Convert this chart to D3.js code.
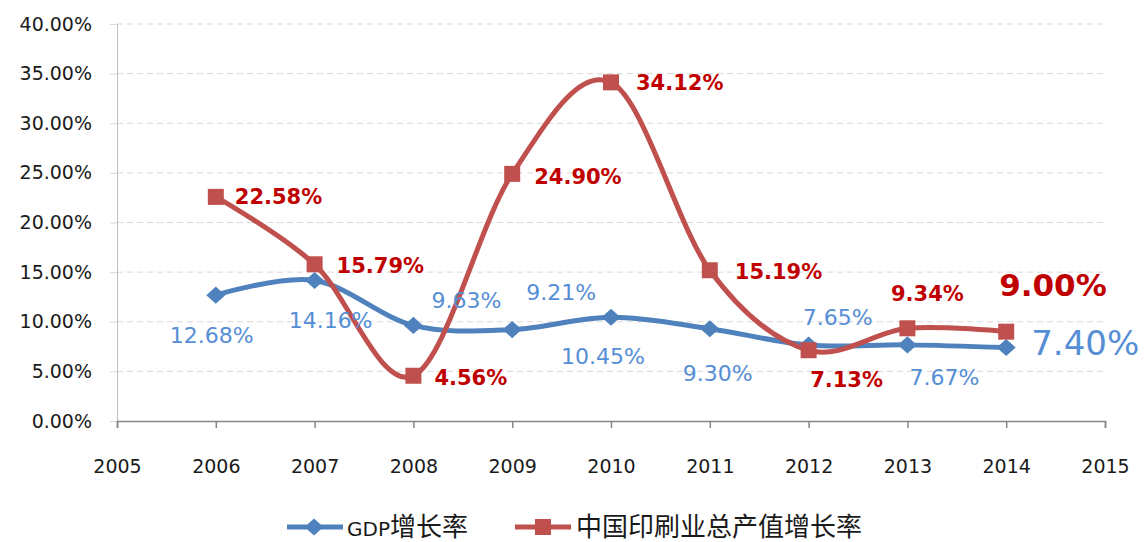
<!DOCTYPE html>
<html>
<head>
<meta charset="utf-8">
<script src="https://cdn.jsdelivr.net/npm/d3@7"></script>
<style>
  body { margin: 0; background: #fff; }
  #chart { width: 1144px; height: 542px; }
  .axis text { font-family: "DejaVu Sans", sans-serif; font-size: 19px; fill: #1a1a1a; }
  .legend text { font-family: "Noto Sans CJK SC", "DejaVu Sans", sans-serif; font-size: 26px; fill: #1a1a1a; }
</style>
</head>
<body>
<div id="chart"></div>
<script>
// data
const years = [2006, 2007, 2008, 2009, 2010, 2011, 2012, 2013, 2014];
const gdpGrowth = [12.68, 14.16, 9.63, 9.21, 10.45, 9.30, 7.65, 7.67, 7.40];
const printGrowth = [22.58, 15.79, 4.56, 24.90, 34.12, 15.19, 7.13, 9.34, 9.00];
const yTicks = [0, 5, 10, 15, 20, 25, 30, 35, 40];
const xTicks = [2005, 2006, 2007, 2008, 2009, 2010, 2011, 2012, 2013, 2014, 2015];
const seriesNames = ["GDP增长率", "中国印刷业总产值增长率"];

// label placement (dx, dy from marker, anchor)
const gdpLabelPos = [
  [-4, 48, "middle"], [16, 48, "middle"], [53, -17, "middle"], [49, -30, "middle"],
  [-8, 47, "middle"], [8, 52, "middle"], [29, -20, "middle"], [37, 40, "middle"], [25, 7, "start"]
];
const printLabelPos = [
  [19, 7, "start"], [22, 9, "start"], [21, 9, "start"], [22, 10, "start"],
  [25, 8, "start"], [25, 9, "start"], [38, 37, "middle"], [20, -27, "middle"], [-7, -36, "start"]
];

const margin = { top: 24, right: 39, bottom: 121, left: 117 };
const W = 1144, H = 542;
const width = W - margin.left - margin.right;
const height = H - margin.top - margin.bottom;

const x = d3.scaleLinear().domain([2005, 2015]).range([0, width]);
const y = d3.scaleLinear().domain([0, 40]).range([height, 0]);

const svg = d3.select("#chart").append("svg")
  .attr("width", W).attr("height", H);

const plot = svg.append("g")
  .attr("transform", `translate(${margin.left},${margin.top})`);

// gridlines
plot.append("g")
  .selectAll("line")
  .data(yTicks.filter(d => d > 0))
  .join("line")
  .attr("x1", 0).attr("x2", width)
  .attr("y1", d => y(d)).attr("y2", d => y(d))
  .attr("stroke", "#d9d9d9")
  .attr("stroke-dasharray", "6,4");

// y axis
const yAxis = plot.append("g").attr("class", "axis")
  .call(d3.axisLeft(y).tickValues(yTicks).tickSize(7).tickPadding(18)
    .tickFormat(d => d.toFixed(2) + "%"));
yAxis.select(".domain").attr("stroke", "#bfbfbf");
yAxis.selectAll(".tick line").attr("stroke", "#d9d9d9");

// x axis
const xAxis = plot.append("g").attr("class", "axis")
  .attr("transform", `translate(0,${height})`)
  .call(d3.axisBottom(x).tickValues(xTicks).tickSize(7).tickSizeOuter(7).tickPadding(32)
    .tickFormat(d3.format("d")));
xAxis.selectAll(".domain, .tick line").attr("stroke", "#868686").attr("stroke-width", 1.5);

const line = d3.line()
  .x((d, i) => x(years[i]))
  .y(d => y(d))
  .curve(d3.curveCardinal.tension(0));

const blue = "#4f81bd", red = "#c0504d";

// GDP line
plot.append("path").datum(gdpGrowth)
  .attr("d", line).attr("fill", "none")
  .attr("stroke", blue).attr("stroke-width", 5);

// print line
plot.append("path").datum(printGrowth)
  .attr("d", line).attr("fill", "none")
  .attr("stroke", red).attr("stroke-width", 5);

const diamond = d3.symbol().type(d3.symbolDiamond2).size(230);

plot.append("g").selectAll("path")
  .data(gdpGrowth)
  .join("path")
  .attr("d", diamond)
  .attr("transform", (d, i) => `translate(${x(years[i])},${y(d)}) scale(1,0.9)`)
  .attr("fill", blue);

plot.append("g").selectAll("rect")
  .data(printGrowth)
  .join("rect")
  .attr("x", (d, i) => x(years[i]) - 8)
  .attr("y", d => y(d) - 8)
  .attr("width", 16).attr("height", 16)
  .attr("fill", red);

// data labels
plot.append("g").selectAll("text")
  .data(gdpGrowth)
  .join("text")
  .attr("x", (d, i) => x(years[i]) + gdpLabelPos[i][0])
  .attr("y", (d, i) => y(d) + gdpLabelPos[i][1])
  .attr("text-anchor", (d, i) => gdpLabelPos[i][2])
  .attr("font-family", "DejaVu Sans, sans-serif")
  .attr("font-size", (d, i) => i === years.length - 1 ? 34 : 22)
  .attr("fill", "#558ed5")
  .text(d => d.toFixed(2) + "%");

plot.append("g").selectAll("text")
  .data(printGrowth)
  .join("text")
  .attr("x", (d, i) => x(years[i]) + printLabelPos[i][0])
  .attr("y", (d, i) => y(d) + printLabelPos[i][1])
  .attr("text-anchor", (d, i) => printLabelPos[i][2])
  .attr("font-family", "DejaVu Sans, sans-serif")
  .attr("font-weight", "bold")
  .attr("font-size", (d, i) => i === years.length - 1 ? 31 : 21)
  .attr("fill", "#c00000")
  .text(d => d.toFixed(2) + "%");

// legend
const legend = svg.append("g").attr("class", "legend")
  .attr("transform", "translate(0,527)");

const lg1 = legend.append("g").attr("transform", "translate(287,0)");
lg1.append("line").attr("x1", 0).attr("x2", 56).attr("stroke", blue).attr("stroke-width", 5);
lg1.append("path").attr("d", diamond).attr("transform", "translate(27,0) scale(1,0.9)").attr("fill", blue);
const t1 = lg1.append("text").attr("x", 60).attr("dy", "0.36em");
t1.append("tspan").attr("font-family", "DejaVu Sans, sans-serif").attr("font-size", 20)
  .text(seriesNames[0].slice(0, 3));
t1.append("tspan").text(seriesNames[0].slice(3));

const lg2 = legend.append("g").attr("transform", "translate(515,0)");
lg2.append("line").attr("x1", 0).attr("x2", 56).attr("stroke", red).attr("stroke-width", 5);
lg2.append("rect").attr("x", 20).attr("y", -8).attr("width", 16).attr("height", 16).attr("fill", red);
lg2.append("text").attr("x", 61).attr("dy", "0.36em").text(seriesNames[1]);
</script>
</body>
</html>
